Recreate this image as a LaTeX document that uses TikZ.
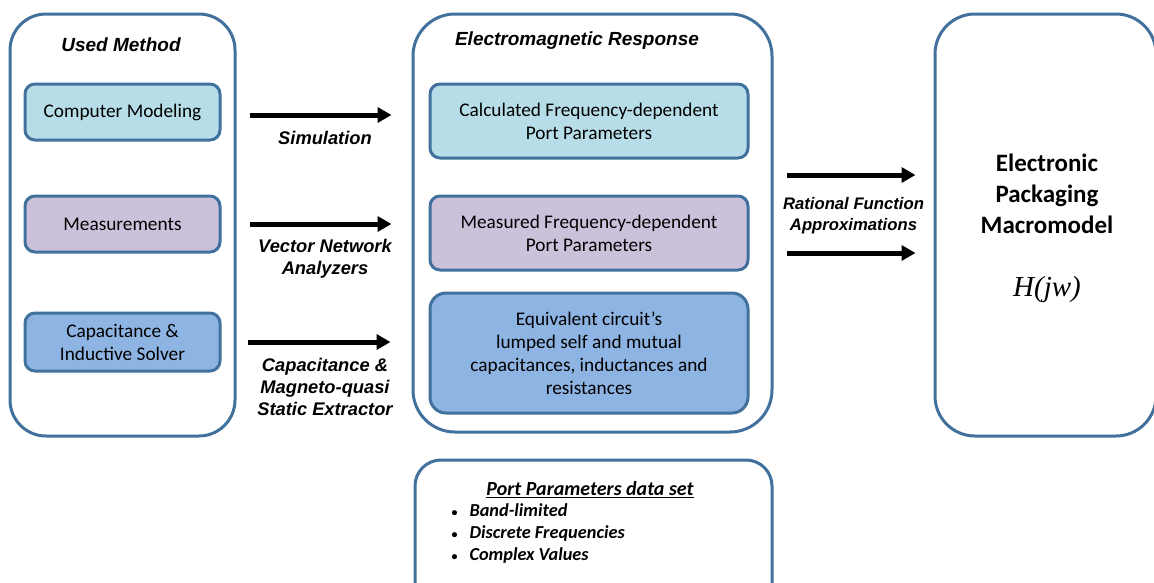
\documentclass[tikz,border=0pt]{standalone}
\usepackage{fontspec}
\setmainfont{Carlito}
\newfontfamily\arialfont{Liberation Sans}
\newfontfamily\mathfont{Liberation Serif}
\usetikzlibrary{arrows.meta,positioning}
\definecolor{edgeblue}{RGB}{65,113,156}
\definecolor{cyanfill}{RGB}{183,222,232}
\definecolor{lilacfill}{RGB}{204,193,218}
\definecolor{bluefill}{RGB}{142,180,227}

\begin{document}
\begin{tikzpicture}[x=1pt, y=-1pt, >={Triangle[length=14pt,width=15pt]},
    panel/.style={draw=edgeblue, line width=3pt, rounded corners=36pt, fill=white},
    item/.style={draw=edgeblue, line width=3pt, rounded corners=10pt, align=center,
                 font=\fontsize{19.3}{23}\selectfont},
    head/.style={font=\arialfont\bfseries\itshape\fontsize{19}{22}\selectfont, align=center},
    tag/.style={font=\arialfont\bfseries\itshape\fontsize{18.3}{22}\selectfont, align=center},
    bigarrow/.style={->, line width=5pt}]
        \useasboundingbox (0,0) rectangle (1154,582);
        \clip (0,0) rectangle (1154,582);

        % used method
        \node[panel, minimum width=225pt, minimum height=422pt] (um) at (122.5,225) {};
        \node[head] (um_t) at (121,45) {Used Method};
        \node[item, fill=cyanfill,  minimum width=195pt, minimum height=56pt] (m_1) at (122.5,112) {Computer Modeling};
        \node[item, fill=lilacfill, minimum width=195pt, minimum height=56pt] (m_2) at (122.5,224) {Measurements};
        \node[item, fill=bluefill,  minimum width=195pt, minimum height=58pt] (m_3) at (122.5,342) {Capacitance \&\\Inductive Solver};

        % electromagnetic response
        \node[panel, rounded corners=42pt, minimum width=359pt, minimum height=418pt] (em) at (592.5,223) {};
        \node[head] (em_t) at (577,41) {Electromagnetic Response};
        \node[item, fill=cyanfill,  minimum width=318pt, minimum height=74pt]  (c_1) at (589,121) {Calculated Frequency-dependent\\Port Parameters};
        \node[item, fill=lilacfill, minimum width=318pt, minimum height=74pt]  (c_2) at (589,233) {Measured Frequency-dependent\\Port Parameters};
        \node[item, fill=bluefill,  minimum width=318pt, minimum height=120pt, rounded corners=16pt] (c_3) at (589,353) {Equivalent circuit’s\\lumped self and mutual\\capacitances, inductances and\\resistances};

        % macromodel
        \node[panel, rounded corners=40pt, minimum width=221pt, minimum height=422pt] (pm) at (1045.5,225) {};
        \node[font=\bfseries\fontsize{25}{31}\selectfont, align=center] (pm_t) at (1047,194) {Electronic\\Packaging\\Macromodel};
        \node[font=\mathfont\itshape\fontsize{29}{30}\selectfont] (pm_h) at (1047,290) {H(jw)};

        % data set
        \node[panel, rounded corners=26pt, minimum width=357pt, minimum height=160pt] (ds) at (593.5,540) {};
        \node[font=\bfseries\itshape\fontsize{20}{22}\selectfont] (ds_t) at (590,490) {\underline{Port Parameters data set}};
        \node[font=\bfseries\itshape\fontsize{18.3}{22}\selectfont, align=left, anchor=west] (ds_l) at (448,534)
            {\makebox[18pt][l]{\upshape\fontsize{12}{12}\selectfont\textbullet}Band-limited\\
             \makebox[18pt][l]{\upshape\fontsize{12}{12}\selectfont\textbullet}Discrete Frequencies\\
             \makebox[18pt][l]{\upshape\fontsize{12}{12}\selectfont\textbullet}Complex Values};

        % arrows
        \draw[bigarrow, shorten <=28pt, shorten >=37pt] ([yshift=-3pt]m_1.east) -- ([yshift=-3pt]m_1.east -| c_1.west)
            node[tag, midway, below=10pt] {Simulation};
        \draw[bigarrow, shorten <=28pt, shorten >=37pt] (m_2.east) -- (m_2.east -| c_2.west)
            node[tag, midway, below=9pt] {Vector Network\\Analyzers};
        \draw[bigarrow, shorten <=26pt, shorten >=38pt] (m_3.east) -- (m_3.east -| c_3.west)
            node[tag, midway, below=10pt] {Capacitance \&\\Magneto-quasi\\Static Extractor};
        \draw[bigarrow, shorten <=13pt, shorten >=18pt] ([yshift=48pt]em.east) -- ([yshift=48pt]em.east -| pm.west)
            node[tag, font=\arialfont\bfseries\itshape\fontsize{16.7}{21}\selectfont, midway, below=17pt] {Rational Function\\Approximations};
        \draw[bigarrow, shorten <=13pt, shorten >=18pt] ([yshift=-30pt]em.east) -- ([yshift=-30pt]em.east -| pm.west);
\end{tikzpicture}
\end{document}
